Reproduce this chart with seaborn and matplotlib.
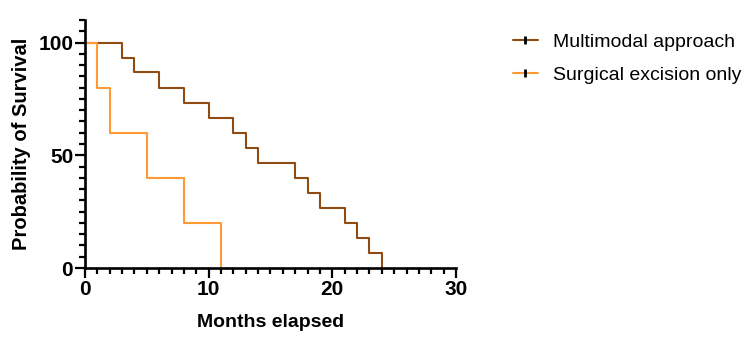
import pandas as pd
import seaborn as sns
import matplotlib.pyplot as plt
from matplotlib.lines import Line2D
from matplotlib.ticker import MultipleLocator

# survival curve data (step points)
multi_months = [0, 3, 4, 6, 8, 10, 12, 13, 14, 17, 18, 19, 21, 22, 23, 24]
multi_surv = [100, 93.3, 86.7, 80, 73.3, 66.7, 60, 53.3, 46.7, 40, 33.3, 26.7, 20, 13.3, 6.7, 0]
surg_months = [0, 1, 2, 5, 8, 11]
surg_surv = [100, 80, 60, 40, 20, 0]
groups = ["Multimodal approach", "Surgical excision only"]
colors = ["#8E4B12", "#FF9A35"]

df = pd.concat([
    pd.DataFrame({"month": multi_months, "surv": multi_surv, "group": groups[0]}),
    pd.DataFrame({"month": surg_months, "surv": surg_surv, "group": groups[1]}),
])

sns.set_style("ticks")
plt.rcParams["font.family"] = ["Liberation Sans", "DejaVu Sans"]
plt.rcParams["text.color"] = "black"
plt.rcParams["axes.labelcolor"] = "black"

fig = plt.figure(figsize=(7.5, 3.44), dpi=100)
ax = fig.add_axes([0.1133, 0.2209, 0.4947, 0.7211])

sns.lineplot(data=df, x="month", y="surv", hue="group", palette=colors,
             drawstyle="steps-post", estimator=None, linewidth=1.5,
             legend=False, ax=ax)

ax.set_xlim(0, 30)
ax.set_ylim(0, 110)
ax.xaxis.set_major_locator(MultipleLocator(10))
ax.xaxis.set_minor_locator(MultipleLocator(1))
ax.yaxis.set_minor_locator(MultipleLocator(5))
ax.set_yticks([0, 50, 100])
ax.tick_params(which="major", length=7, width=1.6, labelsize=15, pad=1.5,
               colors="black")
ax.tick_params(which="minor", length=4.3, width=1.6, colors="black")
for lab in ax.get_xticklabels() + ax.get_yticklabels():
    lab.set_fontweight("bold")
for s in ["top", "right"]:
    ax.spines[s].set_visible(False)
for s in ["left", "bottom"]:
    ax.spines[s].set_linewidth(1.9)
    ax.spines[s].set_color("black")
ax.set_xlabel("Months elapsed", fontsize=14, fontweight="bold", labelpad=11)
ax.set_ylabel("Probability of Survival", fontsize=14.5, fontweight="bold", labelpad=5)

handles = []
for c in colors:
    handles.append((Line2D([], [], color=c, lw=1.5),
                    Line2D([], [], color="black", marker="|", markersize=6,
                           markeredgewidth=2, lw=0)))
fig.legend(handles, groups, loc="upper left", bbox_to_anchor=(0.66, 0.955),
           frameon=False, fontsize=14, handlelength=1.3, handletextpad=0.8,
           labelspacing=0.8)

fig.savefig("out.png", dpi=100)
